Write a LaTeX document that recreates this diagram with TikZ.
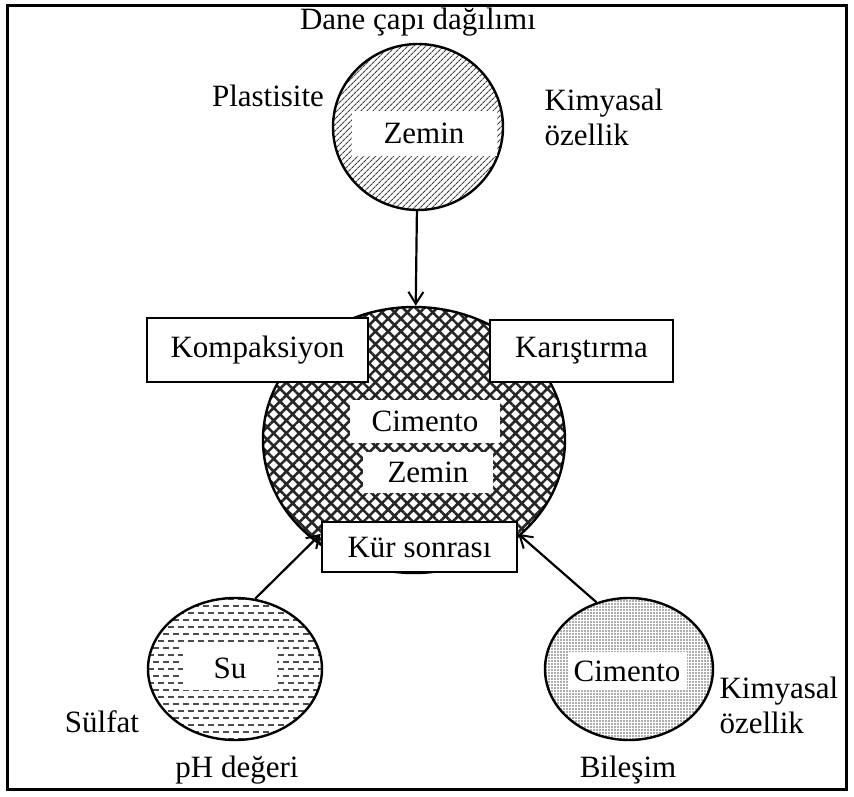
\documentclass[tikz,border=0pt]{standalone}
\usepackage{fontspec}
\setmainfont{Liberation Serif}
\usetikzlibrary{shapes.geometric,patterns.meta,arrows.meta}

\tikzset{
  blob/.style={ellipse, draw, line width=2.4pt, inner sep=0pt},
  band/.style={fill=white, inner sep=0pt},
  stage/.style={draw, fill=white, line width=2.4pt, inner sep=0pt},
  flow/.style={line width=2.2pt, -{Straight Barb[length=12pt,width=15pt,line width=2pt]}},
}

\begin{document}
\begin{tikzpicture}[x=1pt, y=-1pt, every node/.style={font=\fontsize{31}{35}\selectfont}]
        \useasboundingbox (0,0) rectangle (854,796);
        % Frame
        \draw[line width=3pt] (7,5) rectangle (846,789);

        % Soil
        \node[blob, minimum width=170, minimum height=166,
              pattern={Lines[angle=45,distance=4pt,line width=1.1pt]}, pattern color=black!75]
              (soil) at (418,127) {};
        \node[band, minimum width=145, minimum height=45] (soiltxt) at (424,133) {Zemin};
        \node (grain) at (418,22) {Dane çapı dağılımı};
        \node (plast) at (268,96) {Plastisite};
        \node[align=left, anchor=west] (chem1) at (541,117) {Kimyasal\\özellik};

        % Mixture
        \node[blob, minimum width=302, minimum height=266,
              pattern={Hatch[angle=45,distance=9pt,line width=2.6pt]}, pattern color=black!85]
              (mix) at (414,440) {};
        \node[band, minimum width=150, minimum height=43] (mixcem) at (425,421) {Cimento};
        \node[band, minimum width=130, minimum height=41] (mixsoil) at (428,472) {Zemin};

        % Processes
        \node[stage, minimum width=221, minimum height=64] (compact) at (257.5,350) {Kompaksiyon};
        \node[stage, minimum width=183, minimum height=62] (blend) at (581.5,351) {Karıştırma};
        \node[stage, minimum width=195, minimum height=50] (cure) at (419.5,547) {Kür sonrası};

        % Water
        \node[blob, minimum width=174, minimum height=142,
              path picture={
                \foreach \k in {-70,-56,...,70}
                  \draw[black!70, line width=1.3pt, dash pattern=on 6pt off 4pt]
                    ([yshift=\k pt]path picture bounding box.west) -- ([yshift=\k pt]path picture bounding box.east);
                \foreach \k in {-63,-49,...,70}
                  \draw[black!70, line width=1.3pt, dash pattern=on 6pt off 4pt, dash phase=5pt]
                    ([yshift=\k pt]path picture bounding box.west) -- ([yshift=\k pt]path picture bounding box.east);
              }] (water) at (235,669) {};
        \node[band, minimum width=94, minimum height=43] (watertxt) at (230,668) {Su};
        \node (sulf) at (102,722) {Sülfat};
        \node (ph) at (237,770) {pH değeri};

        % Cement
        \node[blob, minimum width=168, minimum height=142,
              pattern={Dots[radius=0.8pt,distance=3pt]}, pattern color=black!65]
              (cem) at (629,669) {};
        \node[band, minimum width=119, minimum height=38] (cemtxt) at (627,671) {Cimento};
        \node (comp) at (628,770) {Bileşim};
        \node[align=left, anchor=west] (chem2) at (716,705) {Kimyasal\\özellik};

        % Arrows
        \draw[flow] (soil) -- (mix);
        \draw[flow] (water.74) -- ([yshift=-13pt]cure.north west);
        \draw[flow] (cem.116) -- ([yshift=-13pt]cure.north east);
    \end{tikzpicture}
\end{document}
